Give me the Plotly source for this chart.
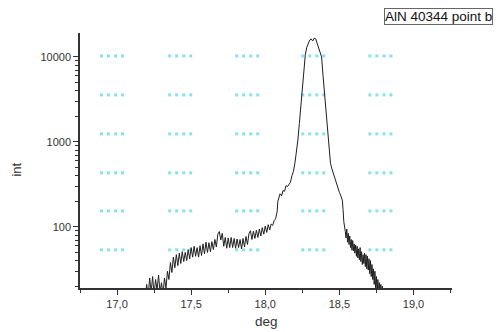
import plotly.graph_objects as go

# ---- data ----
deg = [
    17.19, 17.20, 17.21, 17.22, 17.23, 17.24, 17.25, 17.26, 17.27, 17.28, 17.29,
    17.30, 17.31, 17.32, 17.33, 17.34, 17.35, 17.36, 17.37, 17.38, 17.39,
    17.40, 17.41, 17.42, 17.43, 17.44, 17.45, 17.46, 17.47, 17.48, 17.49,
    17.50, 17.51, 17.52, 17.53, 17.54, 17.55, 17.56, 17.57, 17.58, 17.59,
    17.60, 17.61, 17.62, 17.63, 17.64, 17.65, 17.66, 17.67, 17.68, 17.69,
    17.70, 17.71, 17.72, 17.73, 17.74, 17.75, 17.76, 17.77, 17.78, 17.79,
    17.80, 17.81, 17.82, 17.83, 17.84, 17.85, 17.86, 17.87, 17.88, 17.89,
    17.90, 17.91, 17.92, 17.93, 17.94, 17.95, 17.96, 17.97, 17.98, 17.99,
    18.00, 18.01, 18.02, 18.03, 18.04, 18.05, 18.06, 18.07, 18.08, 18.085,
    18.09, 18.10, 18.11, 18.12, 18.13, 18.14, 18.15, 18.16, 18.17, 18.18,
    18.19, 18.20, 18.21, 18.22, 18.23, 18.24, 18.25, 18.26, 18.27, 18.28,
    18.29, 18.30, 18.31, 18.32, 18.33, 18.34, 18.35, 18.36, 18.37, 18.38,
    18.39, 18.40, 18.41, 18.42, 18.43, 18.44, 18.45, 18.46, 18.47, 18.48,
    18.49, 18.50, 18.51, 18.52, 18.525, 18.53, 18.54, 18.545, 18.55, 18.555,
    18.56, 18.565, 18.57, 18.575, 18.58, 18.585, 18.59, 18.595, 18.60, 18.605,
    18.61, 18.615, 18.62, 18.625, 18.63, 18.635, 18.64, 18.645, 18.65, 18.655,
    18.66, 18.665, 18.67, 18.675, 18.68, 18.685, 18.69, 18.695, 18.70, 18.705,
    18.71, 18.715, 18.72, 18.725, 18.73, 18.735, 18.74, 18.745, 18.75, 18.755,
    18.76, 18.765, 18.77, 18.775, 18.78, 18.785, 18.79, 18.80,
]
intensity = [
    14, 21, 15, 25, 17, 26, 16, 24, 18, 27, 17,
    22, 16, 25, 19, 30, 24, 38, 29, 44, 33,
    47, 35, 49, 37, 51, 39, 50, 40, 54, 42,
    57, 44, 59, 45, 57, 44, 60, 46, 63, 48,
    66, 50, 65, 51, 67, 54, 71, 58, 82, 88,
    70, 84, 59, 75, 56, 74, 57, 75, 57, 73,
    56, 72, 57, 71, 55, 73, 58, 77, 62, 83,
    90, 71, 89, 73, 91, 75, 94, 78, 98, 82,
    102, 86, 106, 92, 108, 104, 118, 125, 150, 200,
    215, 245, 232, 268, 262, 305, 298, 322, 335, 400,
    450, 560, 720, 1050, 1650, 2600, 4000, 7000, 10500, 13000,
    14800, 15800, 16300, 15400, 16600, 16400, 14500, 12500, 11000, 10000,
    6000, 3700, 2500, 1550, 750, 560, 480, 420, 370, 320,
    280, 255, 232, 205, 160, 115, 88, 74, 94, 66,
    84, 62, 78, 57, 71, 53, 69, 52, 63, 49,
    61, 45, 59, 43, 55, 41, 57, 39, 51, 36,
    47, 37, 49, 34, 47, 32, 45, 31, 42, 28,
    40, 26, 36, 24, 32, 21, 30, 18, 26, 16,
    24, 15, 22, 14, 21, 14, 20, 13,
]

# background dotted-dash pattern (centres of the cyan groups)
pattern_cols = [16.966, 17.426, 17.878, 18.324, 18.777]
pattern_rows = [10280, 3573, 1242, 432, 154, 53.6]

x_ticks = [17.0, 17.5, 18.0, 18.5, 19.0]
x_tick_labels = ["17,0", "17,5", "18,0", "18,5", "19,0"]
y_ticks = [100, 1000, 10000]
y_tick_labels = ["100", "1000", "10000"]

legend_text = "AlN 40344 point b"
x_title = "deg"
y_title = "int"

FONT = "Liberation Sans, Arial, sans-serif"

# build pattern dots (4 dots per group)
dot_offsets = [-0.071, -0.024, 0.024, 0.071]
px_, py_ = [], []
for c in pattern_cols:
    for r in pattern_rows:
        for o in dot_offsets:
            px_.append(c + o)
            py_.append(r)

fig = go.Figure()
fig.add_trace(go.Scatter(
    x=px_, y=py_, mode="markers",
    marker=dict(symbol="square", size=3, color="#86e3ea", line=dict(width=0)),
    hoverinfo="skip", showlegend=False,
))
fig.add_trace(go.Scatter(
    x=deg, y=intensity, mode="lines",
    line=dict(color="#1e1e1e", width=1),
    showlegend=False,
))

minor_y = [m * 10 ** e for e in range(1, 5) for m in range(2, 10)]

# the page body adds an 8px offset, so the figure is 8px smaller on each side
fig.update_layout(
    width=493, height=324,
    margin=dict(l=72, r=49, t=25, b=44),
    paper_bgcolor="white", plot_bgcolor="white",
    font=dict(family=FONT, size=11, color="#333"),
    xaxis=dict(
        range=[16.75, 19.26], showgrid=False, zeroline=False,
        showline=True, linecolor="#333", linewidth=1.5,
        ticks="outside", ticklen=5, tickwidth=1.2, tickcolor="#333",
        tickvals=x_ticks, ticktext=x_tick_labels,
        tickfont=dict(size=11, color="#333"),
        minor=dict(ticks="outside", ticklen=3, tickwidth=1.2, tickcolor="#333",
                   tickvals=[16.75, 17.25, 17.75, 18.25, 18.75, 19.25]),
    ),
    yaxis=dict(
        type="log", range=[1.28, 4.282], showgrid=False, zeroline=False,
        showline=True, linecolor="#333", linewidth=1.5,
        ticks="outside", ticklen=5, tickwidth=1.2, tickcolor="#333",
        tickvals=y_ticks, ticktext=y_tick_labels,
        tickfont=dict(size=11, color="#333"),
        minor=dict(ticks="outside", ticklen=3, tickwidth=1, tickcolor="#333",
                   tickvals=minor_y),
    ),
    annotations=[
        dict(text=legend_text, xref="paper", yref="paper",
             x=0.8172, y=1.098, xanchor="left", yanchor="top",
             showarrow=False, font=dict(size=13.5, color="#111", family=FONT),
             bordercolor="#666", borderwidth=1, borderpad=0, bgcolor="white"),
        dict(text=x_title, xref="paper", yref="paper",
             x=0.501, y=-0.1333, xanchor="center", yanchor="middle",
             showarrow=False, font=dict(size=13.5, color="#333", family=FONT)),
        dict(text=y_title, xref="paper", yref="paper",
             x=-0.172, y=0.4647, xanchor="center", yanchor="middle",
             textangle=-90, showarrow=False,
             font=dict(size=13, color="#333", family=FONT)),
    ],
)

fig.write_html("out.html")
